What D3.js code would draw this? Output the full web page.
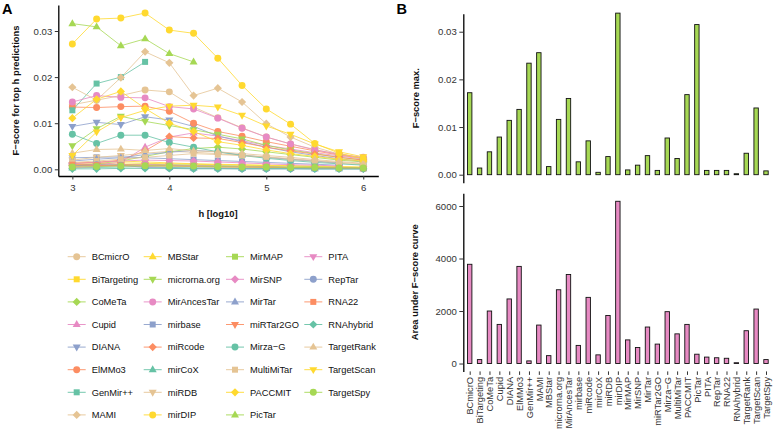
<!DOCTYPE html>
<html><head><meta charset="utf-8">
<script src="https://cdn.jsdelivr.net/npm/d3@7"></script>
<style>
body{margin:0;background:#fff}
svg{display:block;font-family:"Liberation Sans",Arial,Helvetica,sans-serif}
</style>
</head><body>
<svg id="chart" width="774" height="435"></svg>
<script>
// ---------- data ----------
const methods = ["BCmicrO","BiTargeting","CoMeTa","Cupid","DIANA","ElMMo3","GenMir++","MAMI","MBStar",
  "microrna.org","MirAncesTar","mirbase","miRcode","mirCoX","miRDB","mirDIP","MirMAP","MirSNP","MirTar",
  "miRTar2GO","Mirza−G","MultiMiTar","PACCMIT","PicTar","PITA","RepTar","RNA22","RNAhybrid","TargetRank",
  "TargetScan","TargetSpy"];
const hValues = [3,3.25,3.5,3.75,4,4.25,4.5,4.75,5,5.25,5.5,5.75,6];
const hTicks = [3,4,5,6];
const fTicksA = [0,0.01,0.02,0.03];
const fMaxTicks = [0,0.01,0.02,0.03];
const areaTicks = [0,2000,4000,6000];

const fBCmicrO     = [0.0140,0.0150,0.0160,0.0172,0.0168,0.0135,0.0112,0.0090,0.0070,0.0055,0.0043,0.0032,0.0024];
const fBiTargeting = [0.0010,0.0012,0.0014,0.0013,0.0012,0.0011,0.0010,0.0009,0.0008,0.0007,0.0006,0.0005,0.0004];
const fCoMeTa      = [0.0008,0.0012,0.0018,0.0028,0.0038,0.0045,0.0048,0.0044,0.0038,0.0032,0.0026,0.0020,0.0016];
const fCupid       = [0.0008,0.0010,0.0015,0.0048,0.0070,0.0079,0.0072,0.0062,0.0052,0.0044,0.0036,0.0029,0.0022];
const fDIANA       = [0.0093,0.0102,0.0097,0.0114,0.0107,0.0093,0.0072,0.0060,0.0048,0.0038,0.0030,0.0023,0.0017];
const fElMMo3      = [0.0135,0.0134,0.0136,0.0137,0.0126,0.0100,0.0082,0.0072,0.0060,0.0050,0.0040,0.0031,0.0024];
const fGenMir      = [0.0128,0.0186,0.0200,0.0233,null,null,null,null,null,null,null,null,null];
const fMAMI        = [0.0178,0.0150,0.0199,0.0255,0.0231,0.0160,0.0176,0.0146,0.0099,0.0070,0.0048,0.0033,0.0024];
const fMBStar      = [0.0012,0.0015,0.0018,0.0016,0.0014,0.0012,0.0011,0.0010,0.0009,0.0008,0.0007,0.0006,0.0005];
const fMicrornaOrg = [0.0051,0.0088,0.0115,0.0104,0.0095,0.0086,0.0076,0.0066,0.0052,0.0042,0.0034,0.0026,0.0020];
const fMirAncesTar = [0.0146,0.0160,0.0156,0.0155,0.0136,0.0131,0.0111,0.0089,0.0070,0.0055,0.0042,0.0033,0.0026];
const fMirbase     = [0.0025,0.0026,0.0027,0.0025,0.0023,0.0021,0.0019,0.0017,0.0015,0.0013,0.0011,0.0009,null];
const fMiRcode     = [0.0014,0.0015,0.0020,0.0040,0.0071,0.0068,0.0067,0.0058,0.0048,0.0040,0.0033,0.0026,0.0020];
const fMirCoX      = [0.0003,0.0004,0.0005,0.0006,0.0004,0.0003,0.0003,0.0002,0.0002,0.0002,0.0001,0.0001,0.0001];
const fMiRDB       = [0.0020,0.0026,0.0030,0.0035,0.0039,0.0037,0.0034,0.0030,0.0026,0.0021,0.0017,0.0013,0.0010];
const fMirDIP      = [0.0272,0.0326,0.0328,0.0339,0.0302,0.0295,0.0241,0.0182,0.0131,0.0098,0.0056,0.0035,0.0023];
const fMirMAP      = [0.0008,0.0009,0.0010,0.0011,0.0010,0.0009,0.0008,0.0007,0.0006,0.0005,0.0005,0.0004,0.0003];
const fMirSNP      = [0.0012,0.0015,0.0018,0.0020,0.0019,0.0018,0.0016,0.0014,0.0012,0.0010,0.0009,0.0007,null];
const fMirTar      = [0.0018,0.0022,0.0025,0.0032,0.0037,0.0041,0.0038,0.0031,0.0026,0.0022,0.0018,0.0014,null];
const fMiRTar2GO   = [0.0006,0.0008,0.0010,0.0009,0.0008,0.0007,0.0006,0.0005,0.0005,0.0004,0.0003,0.0003,0.0002];
const fMirzaG      = [0.0076,0.0056,0.0074,0.0074,0.0058,0.0048,0.0038,0.0030,0.0024,0.0019,0.0015,0.0012,0.0009];
const fMultiMiTar  = [0.0015,0.0018,0.0022,0.0026,0.0030,0.0034,0.0032,0.0030,0.0027,0.0023,0.0019,0.0015,0.0012];
const fPACCMIT     = [0.0111,0.0152,0.0169,0.0132,0.0100,0.0082,0.0060,0.0052,0.0042,0.0034,0.0028,0.0022,0.0018];
const fPicTar      = [0.0316,0.0309,0.0268,0.0283,0.0251,0.0233,null,null,null,null,null,null,null];
const fPITA        = [0.0004,0.0006,0.0008,0.0010,0.0009,0.0008,0.0007,0.0006,0.0005,0.0004,0.0004,0.0003,0.0002];
const fRepTar      = [0.0008,0.0010,0.0009,0.0004,0.0003,0.0002,0.0002,0.0001,0.0001,0.0001,0.0001,0.0001,0.0001];
const fRNA22       = [0.0010,0.0009,0.0008,0.0007,0.0007,0.0006,0.0005,0.0005,0.0004,0.0004,0.0003,0.0003,0.0002];
const fRNAhybrid   = [0.0001,0.0001,0.0002,0.0002,0.0002,0.0001,0.0001,0.0001,0.0001,0.0001,0.0001,0.0001,0.0001];
const fTargetRank  = [0.0035,0.0043,0.0044,0.0041,0.0045,0.0040,0.0038,0.0034,0.0030,0.0026,0.0021,0.0017,0.0013];
const fTargetScan  = [0.0030,0.0081,0.0112,0.0128,0.0137,0.0139,0.0135,0.0117,0.0094,0.0076,0.0055,0.0038,0.0027];
const fTargetSpy   = [0.0005,0.0006,0.0007,0.0008,0.0007,0.0007,0.0006,0.0005,0.0005,0.0004,0.0004,0.0003,0.0003];

const curves = [fBCmicrO,fBiTargeting,fCoMeTa,fCupid,fDIANA,fElMMo3,fGenMir,fMAMI,fMBStar,fMicrornaOrg,
  fMirAncesTar,fMirbase,fMiRcode,fMirCoX,fMiRDB,fMirDIP,fMirMAP,fMirSNP,fMirTar,fMiRTar2GO,fMirzaG,
  fMultiMiTar,fPACCMIT,fPicTar,fPITA,fRepTar,fRNA22,fRNAhybrid,fTargetRank,fTargetScan,fTargetSpy];

const fScoreMax = [0.0172,0.0014,0.0048,0.0079,0.0114,0.0137,0.0234,0.0256,0.0017,0.0116,0.0160,0.0027,
  0.0071,0.0005,0.0038,0.0339,0.0010,0.0020,0.0040,0.0009,0.0077,0.0034,0.0168,0.0315,0.0009,0.0009,
  0.0009,0.0002,0.0045,0.0140,0.0008];
const areaUnder = [3780,150,2000,1490,2460,3700,100,1465,300,2810,3390,690,2520,330,1830,6180,900,610,1390,
  740,1975,1130,1490,355,245,220,200,30,1250,2075,150];

// ---------- style ----------
const palette = ["#E5C494","#FFD92F","#A6D854","#E78AC3","#8DA0CB","#FC8D62","#66C2A5"];
const shapes = ["circle","square","diamond","triangle","triangleDown"];
const colorOf = i => palette[i % 7];
const shapeOf = i => shapes[i % 5];
function shapePath(s){
  switch(s){
    case "circle": return d3.symbol(d3.symbolCircle, 38)();
    case "square": return "M-3,-3H3V3H-3Z";
    case "diamond": return "M0,-4.1L4.1,0L0,4.1L-4.1,0Z";
    case "triangle": return "M0,-4.4L4,2.5L-4,2.5Z";
    case "triangleDown": return "M0,4.4L4,-2.5L-4,-2.5Z";
  }
}

const svg = d3.select("#chart");
const textCol = "#333";
const fontTick = 9.6;

// ---------- Panel A ----------
const xA = d3.scaleLinear().domain([2.855, 6.155]).range([58.3, 378.3]);
const yA = d3.scaleLinear().domain([-0.00145, 0.03564]).range([176, 5]);

const gA = svg.append("g");
const line = d3.line().defined(d => d[1] !== null).x(d => xA(d[0])).y(d => yA(d[1]));
curves.forEach((vals, i) => {
  const pts = hValues.map((h, j) => [h, vals[j]]);
  gA.append("path").attr("d", line(pts)).attr("fill","none")
    .attr("stroke", colorOf(i)).attr("stroke-width", 0.8);
});
curves.forEach((vals, i) => {
  const pts = hValues.map((h, j) => [h, vals[j]]).filter(d => d[1] !== null);
  gA.selectAll(null).data(pts).enter().append("path")
    .attr("d", shapePath(shapeOf(i)))
    .attr("transform", d => `translate(${xA(d[0])},${yA(d[1])})`)
    .attr("fill", colorOf(i));
});

function styleAxis(g){
  g.select(".domain").attr("stroke","#000").attr("stroke-width",1.3);
  g.selectAll(".tick line").attr("stroke","#333").attr("stroke-width",1);
  g.selectAll(".tick text").attr("fill",textCol).attr("font-size",fontTick)
    .attr("font-family",'"Liberation Sans",Arial,sans-serif');
}
const axAy = svg.append("g").attr("transform","translate(58.3,0)")
  .call(d3.axisLeft(yA).tickValues(fTicksA).tickFormat(d3.format(".2f")).tickSize(3.5).tickSizeOuter(0).tickPadding(2.5));
styleAxis(axAy);
const axAx = svg.append("g").attr("transform","translate(0,176)")
  .call(d3.axisBottom(xA).tickValues(hTicks).tickFormat(d3.format("d")).tickSize(3.5).tickSizeOuter(0).tickPadding(5));
styleAxis(axAx);

svg.append("text").attr("x",2).attr("y",14).attr("font-size",14.5).attr("font-weight","bold").text("A");
svg.append("text").attr("transform","translate(19.3,90.5) rotate(-90)").attr("text-anchor","middle")
  .attr("font-size",9.4).attr("font-weight","bold").attr("fill","#111").text("F−score for top h predictions");
svg.append("text").attr("x",218).attr("y",217).attr("text-anchor","middle")
  .attr("font-size",9.4).attr("font-weight","bold").attr("fill","#111").text("h [log10]");

// ---------- Legend ----------
const legColX = [76.7, 152.7, 235, 313.3];
const legRowY0 = 256.7, legRowStep = 22.6, legRows = 8;
const leg = svg.append("g");
methods.forEach((m, i) => {
  const cx = legColX[Math.floor(i / legRows)];
  const cy = legRowY0 + legRowStep * (i % legRows);
  leg.append("line").attr("x1",cx-9).attr("x2",cx+9).attr("y1",cy).attr("y2",cy)
    .attr("stroke",colorOf(i)).attr("stroke-width",0.9);
  leg.append("path").attr("d",shapePath(shapeOf(i))).attr("transform",`translate(${cx},${cy})`).attr("fill",colorOf(i));
  leg.append("text").attr("x",cx+15).attr("y",cy+3.3).attr("font-size",9.3).attr("fill","#111").text(m);
});

// ---------- Panel B ----------
const xB = d3.scalePoint().domain(methods).range([469.7, 766]);
const barW = 4.4;

const yB1 = d3.scaleLinear().domain([-0.00168, 0.03378]).range([182.7, 13.7]);
svg.append("g").selectAll(null).data(methods).enter().append("rect")
  .attr("x", m => xB(m) - barW/2).attr("width", barW)
  .attr("y", (m, i) => yB1(fScoreMax[i])).attr("height", (m, i) => yB1(0) - yB1(fScoreMax[i]))
  .attr("fill", "#A6D854").attr("stroke", "#111").attr("stroke-width", 0.9);
const axB1 = svg.append("g").attr("transform","translate(463.3,0)")
  .call(d3.axisLeft(yB1).tickValues(fMaxTicks).tickFormat(d3.format(".2f")).tickSize(4).tickSizeOuter(0).tickPadding(2.5));
styleAxis(axB1);

const yB2 = d3.scaleLinear().domain([-300, 6484]).range([371.4, 193.3]);
svg.append("g").selectAll(null).data(methods).enter().append("rect")
  .attr("x", m => xB(m) - barW/2).attr("width", barW)
  .attr("y", (m, i) => yB2(areaUnder[i])).attr("height", (m, i) => yB2(0) - yB2(areaUnder[i]))
  .attr("fill", "#E78AC3").attr("stroke", "#111").attr("stroke-width", 0.9);
const axB2 = svg.append("g").attr("transform","translate(463.3,0)")
  .call(d3.axisLeft(yB2).tickValues(areaTicks).tickFormat(d3.format("d")).tickSize(4).tickSizeOuter(0).tickPadding(2.5));
styleAxis(axB2);

const axB2x = svg.append("g").attr("transform","translate(0,371.4)")
  .call(d3.axisBottom(xB).tickSize(3.5).tickSizeOuter(0).tickPadding(2));
styleAxis(axB2x);
axB2x.select(".domain").remove();
axB2x.selectAll(".tick text").attr("transform","rotate(-90)").attr("text-anchor","end")
  .attr("x",-5.5).attr("y",0).attr("dy","0.35em").attr("font-size",9.3);

svg.append("text").attr("x",396.5).attr("y",13.5).attr("font-size",14.5).attr("font-weight","bold").text("B");
svg.append("text").attr("transform","translate(419,98.2) rotate(-90)").attr("text-anchor","middle")
  .attr("font-size",9.4).attr("font-weight","bold").attr("fill","#111").text("F−score max.");
svg.append("text").attr("transform","translate(417.5,282.3) rotate(-90)").attr("text-anchor","middle")
  .attr("font-size",9.4).attr("font-weight","bold").attr("fill","#111").text("Area under F−score curve");
</script>
</body></html>
